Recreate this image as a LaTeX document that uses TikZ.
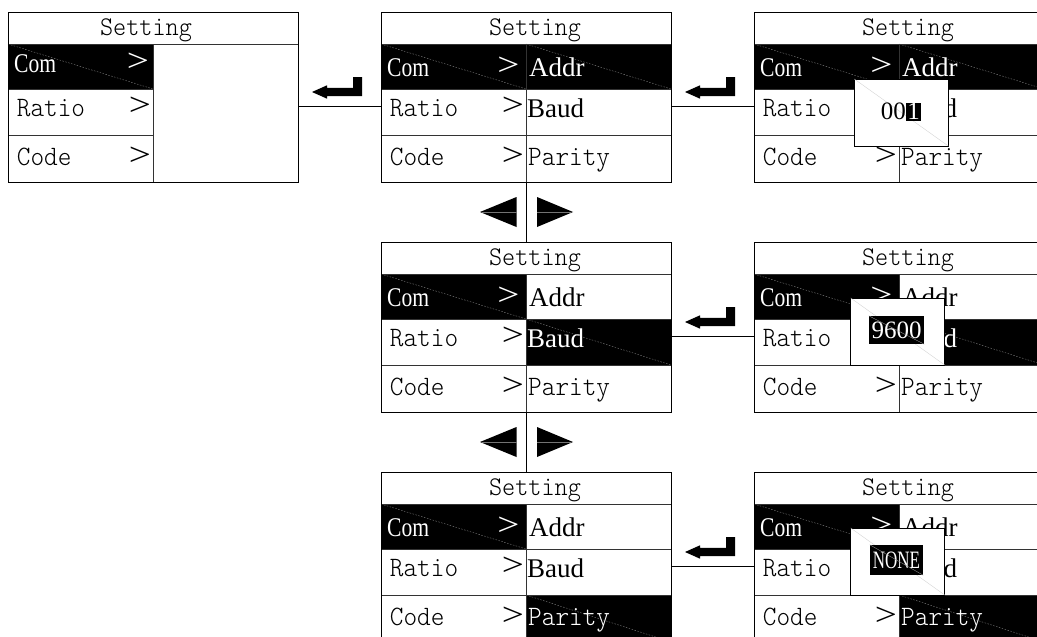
\documentclass[tikz,border=0pt]{standalone}
\usepackage{fontspec}
\usepackage{graphicx}
\newfontfamily\serifface{Liberation Serif}
\newfontfamily\monoface{lmmonolt10-regular.otf}
\usetikzlibrary{calc}

% mono labels are set a little taller than the font draws them
\newcommand\tallmono[1]{\scalebox{1}[1.08]{#1}}

\tikzset{
  x=1pt, y=-1pt,
  panelframe/.style={draw=black, line width=1pt, fill=white, minimum width=290pt,
    minimum height=170pt, anchor=north west, inner sep=0pt, outer sep=0pt},
  framepen/.style={draw=black, line width=1pt},
  gridline/.style={draw=black!80, line width=1pt},
  seam/.style={draw=black!45, line width=0.35pt, dash pattern=on 1.5pt off 1.5pt},
  lightseam/.style={draw=black!18, line width=0.35pt},
  link/.style={draw=black, line width=1pt},
  titletext/.style={font=\fontsize{25}{25}\selectfont\monoface, inner sep=0pt, anchor=base},
  monolabel/.style={font=\fontsize{26}{26}\selectfont\monoface, inner sep=0pt, anchor=base west},
  seriflabel/.style={font=\fontsize{27}{27}\selectfont\serifface, inner sep=0pt, anchor=base west},
  chevron/.style={font=\fontsize{34}{34}\selectfont\serifface, inner sep=0pt, anchor=center},
  popup/.style={draw=black, line width=1pt, fill=white, minimum width=94pt,
    minimum height=67pt, anchor=north west, inner sep=0pt, outer sep=0pt},
  popnum/.style={font=\fontsize{25}{25}\selectfont\serifface, inner sep=0pt},
  popsel/.style={popnum, fill=black, text=white},
  enterkey/.pic={
    \fill (0,0) -- (15,-6.7) -- (15,-4.2) -- (41,-4.2) -- (41,-15) -- (50,-15)
      -- (50,4) -- (15,4) -- (15,6.7) -- cycle;
  },
  navpair/.pic={
    \fill (-46,0) -- (-9.5,-15) -- (-9.5,15) -- cycle;
    \fill (11,-15) -- (47,0) -- (11,15) -- cycle;
    \draw[lightseam, draw=black!55] (-44,0) -- (-9.5,0) (11,0) -- (45,0);
  }
}

% One settings screen: name, left x, top y, highlighted row of the
% right column (0 = right column empty)
\newcommand\menupanel[4]{%
  \ifnum#4=0
    \def\ttlx{138}\def\comy{60}\def\chx{130}\def\chy{50}
  \else
    \def\ttlx{154}\def\comy{64}\def\chx{127.5}\def\chy{54}
  \fi
  \def\cola{black}\def\colb{black}\def\colc{black}%
  \ifcase#4\or\def\cola{white}\or\def\colb{white}\or\def\colc{white}\fi
  \begin{scope}[shift={(#2,#3)}]
    \node[panelframe] (#1) at (0,0) {};
    \fill (0,32) rectangle (145,77);
    \draw[seam] (0,32) -- (145,77);
    \ifcase#4\or
      \fill (145,32) rectangle (290,77); \draw[seam] (145,32) -- (290,77);
    \or
      \fill (145,77) rectangle (290,123); \draw[seam] (145,77) -- (290,123);
    \or
      \fill (145,123) rectangle (290,170); \draw[seam] (145,123) -- (290,170);
    \fi
    \draw[gridline] (0,32) -- (290,32);
    \ifnum#4=0
      \draw[gridline] (0,77) -- (145,77) (0,123) -- (145,123);
    \else
      \draw[gridline] (0,77) -- (290,77) (0,123) -- (290,123);
    \fi
    \draw[gridline] (145,32) -- (145,170);
    \draw[framepen] (#1.north west) rectangle (#1.south east);
    \node[titletext] (#1-title) at (\ttlx,23) {\tallmono{Setting}};
    \node[seriflabel, text=white] (#1-com) at (6,\comy) {\scalebox{0.8}[1]{Com}};
    \node[monolabel] (#1-ratio) at (8.7,104) {\tallmono{Ratio}};
    \node[monolabel] (#1-code) at (8.7,153) {\tallmono{Code}};
    \node[chevron, text=white] (#1-ga) at (\chx,\chy) {\scalebox{1.15}[0.95]{>}};
    \node[chevron] (#1-gb) at (132,94) {\scalebox{1.15}[0.95]{>}};
    \node[chevron] (#1-gc) at (132,144) {\scalebox{1.15}[0.95]{>}};
    \ifnum#4>0
      \node[seriflabel, text=\cola] (#1-addr) at (148,64.7) {Addr};
      \node[seriflabel, text=\colb] (#1-baud) at (146,105) {Baud};
      \node[monolabel, text=\colc] (#1-parity) at (147,153) {\tallmono{Parity}};
    \fi
  \end{scope}%
}

\begin{document}
\begin{tikzpicture}
  \useasboundingbox (0,0) rectangle (1037,637);
  \clip (0,0) rectangle (1037,637);

  % screens
  \menupanel{p1}{8}{12}{0}
  \menupanel{p2}{381}{12}{1}
  \menupanel{p3}{754}{12}{1}
  \menupanel{p4}{381}{242}{2}
  \menupanel{p5}{754}{242}{2}
  \menupanel{p6}{381}{472}{3}
  \menupanel{p7}{754}{472}{3}

  % Enter transitions
  \draw[link] ([yshift=-9pt]p1.east) -- ([yshift=-9pt]p2.west);
  \draw[link] ([yshift=-9pt]p2.east) -- ([yshift=-9pt]p3.west);
  \draw[link] ([yshift=-9pt]p4.east) -- ([yshift=-9pt]p5.west);
  \draw[link] ([yshift=-9pt]p6.east) -- ([yshift=-9pt]p7.west);
  \pic (k1) at ($(p1.east)+(14,-5)$) {enterkey};
  \pic (k2) at ($(p2.east)+(14,-5)$) {enterkey};
  \pic (k3) at ($(p4.east)+(14,-5)$) {enterkey};
  \pic (k4) at ($(p6.east)+(14,-5)$) {enterkey};

  % Left/right transitions
  \draw[link] (p2.south) -- (p4.north);
  \draw[link] (p4.south) -- (p6.north);
  \coordinate (nav1) at ($(p2.south)!0.5!(p4.north)$);
  \coordinate (nav2) at ($(p4.south)!0.5!(p6.north)$);
  \pic (n1) at (nav1) {navpair};
  \pic (n2) at (nav2) {navpair};

  % edit box: address
  \node[popup] (e1) at ($(p3.north west)+(100.3,67)$) {};
  \draw[lightseam] (e1.north west) -- (e1.south east);
  \node[popnum, anchor=base west] (e1a) at ($(e1.north west)+(26.4,40.7)$) {00};
  \node[popsel, anchor=base west, text height=16.7pt, text depth=1.6pt, inner xsep=1pt]
    (e1b) at (e1a.base east) {1};

  % edit box: baud rate
  \node[popup] (e2) at ($(p5.north west)+(96.7,56)$) {};
  \draw[lightseam] (e2.north west) -- (e2.south east);
  \node[popsel, minimum width=55pt, minimum height=28pt] (e2a)
    at ($(e2.north west)+(45.8,32)$) {9600};
  \draw[lightseam, draw=black!40] (e2a.north west) -- (e2a.south east);

  % edit box: parity
  \node[popup] (e3) at ($(p7.north west)+(96.7,56)$) {};
  \draw[lightseam] (e3.north west) -- (e3.south east);
  \node[popsel, minimum width=53pt, minimum height=30pt] (e3a)
    at ($(e3.north west)+(45.8,32)$) {\scalebox{0.68}[1]{NONE}};
  \draw[lightseam, draw=black!40] (e3a.north west) -- (e3a.south east);
\end{tikzpicture}
\end{document}
